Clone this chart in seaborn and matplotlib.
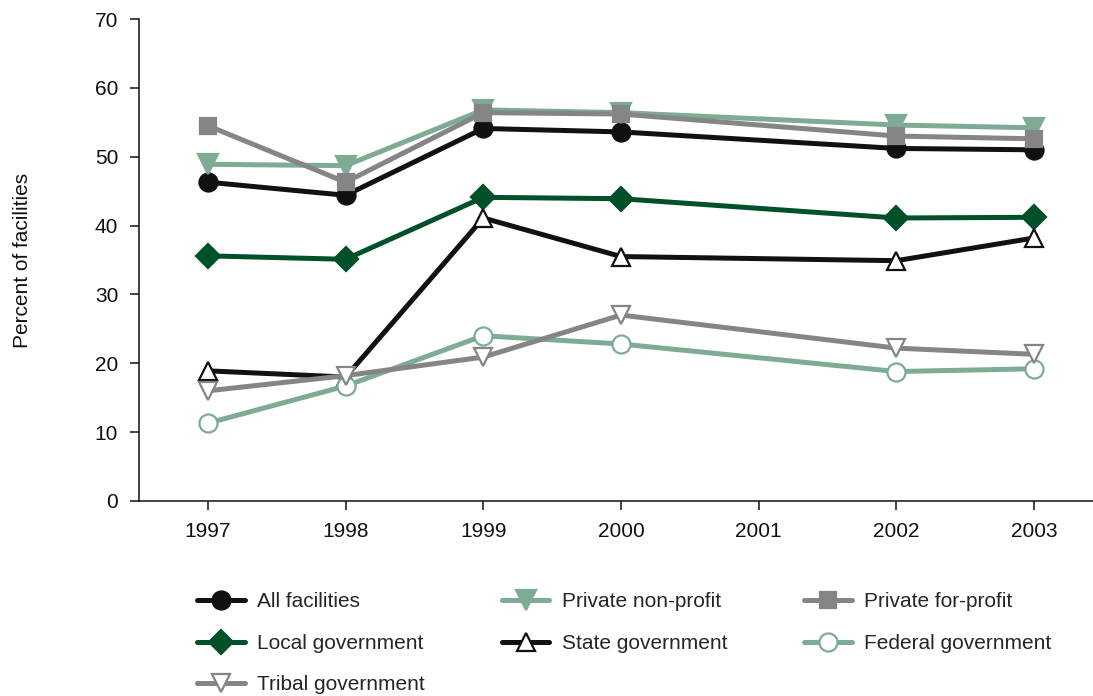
import matplotlib
matplotlib.use("Agg")
import matplotlib.pyplot as plt
import seaborn as sns
import pandas as pd

# data (no survey in 2001)
years = [1997, 1998, 1999, 2000, 2002, 2003]
all_facilities = [46.3, 44.4, 54.1, 53.6, 51.2, 51.0]
private_nonprofit = [48.9, 48.7, 56.8, 56.4, 54.6, 54.2]
private_forprofit = [54.5, 46.3, 56.4, 56.2, 53.0, 52.6]
local_gov = [35.6, 35.1, 44.1, 43.9, 41.1, 41.2]
state_gov = [18.9, 18.0, 41.1, 35.5, 34.9, 38.2]
federal_gov = [11.3, 16.7, 24.0, 22.8, 18.8, 19.2]
tribal_gov = [16.0, 18.2, 20.9, 27.0, 22.2, 21.3]

tick_years = [1997, 1998, 1999, 2000, 2001, 2002, 2003]

BLACK = "#111111"
LTGREEN = "#7eab93"
GRAY = "#858585"
DKGREEN = "#00502a"

# label, values, line colour, marker, size, face, edge
series = [
    ("All facilities", all_facilities, BLACK, "o", 13, BLACK, BLACK),
    ("Private non-profit", private_nonprofit, LTGREEN, "v", 14, LTGREEN, LTGREEN),
    ("Private for-profit", private_forprofit, GRAY, "s", 12, GRAY, GRAY),
    ("Local government", local_gov, DKGREEN, "D", 12, DKGREEN, DKGREEN),
    ("State government", state_gov, BLACK, "^", 13, "white", BLACK),
    ("Federal government", federal_gov, LTGREEN, "o", 13, "white", LTGREEN),
    ("Tribal government", tribal_gov, GRAY, "v", 13, "white", GRAY),
]

sns.set_style("ticks")
plt.rcParams["font.family"] = ["Liberation Sans", "DejaVu Sans"]

fig = plt.figure(figsize=(10.93, 6.96), dpi=100)
ax = fig.add_axes([0.1272, 0.2802, 0.8819, 0.6925])

handles = {}
for label, vals, col, mk, ms, mfc, mec in series:
    df = pd.DataFrame({"year": years, "pct": vals})
    sns.lineplot(data=df, x="year", y="pct", ax=ax, color=col, lw=3.6,
                 marker=mk, markersize=ms, markerfacecolor=mfc,
                 markeredgecolor=mec, markeredgewidth=1.6, legend=False)
    handles[label] = ax.get_lines()[-1]

ax.set_xlim(1996.5, 2003.5)
ax.set_ylim(0, 70)
ax.set_xticks(tick_years)
ax.set_yticks(range(0, 71, 10))
ax.set_xlabel("")
ax.set_ylabel("Percent of facilities", fontsize=15, color=BLACK)
ax.yaxis.set_label_coords(-0.111, 0.5)
ax.tick_params(axis="both", labelsize=15, length=6.5, width=1.1,
               colors=BLACK, pad=8.5)
sns.despine(ax=ax)
for sp in ["left", "bottom"]:
    ax.spines[sp].set_linewidth(1.1)
    ax.spines[sp].set_color(BLACK)

# matplotlib fills legend columns first, so reorder to read across rows
order = ["All facilities", "Local government", "Tribal government",
         "Private non-profit", "State government",
         "Private for-profit", "Federal government"]
fig.legend([handles[k] for k in order], order, ncol=3, frameon=False,
           loc="upper left", bbox_to_anchor=(0.180, 0.149),
           fontsize=15, handlelength=2.3, handletextpad=0.58,
           columnspacing=3.7, labelspacing=1.08, borderpad=0,
           borderaxespad=0)

fig.savefig("out.png", dpi=100)
